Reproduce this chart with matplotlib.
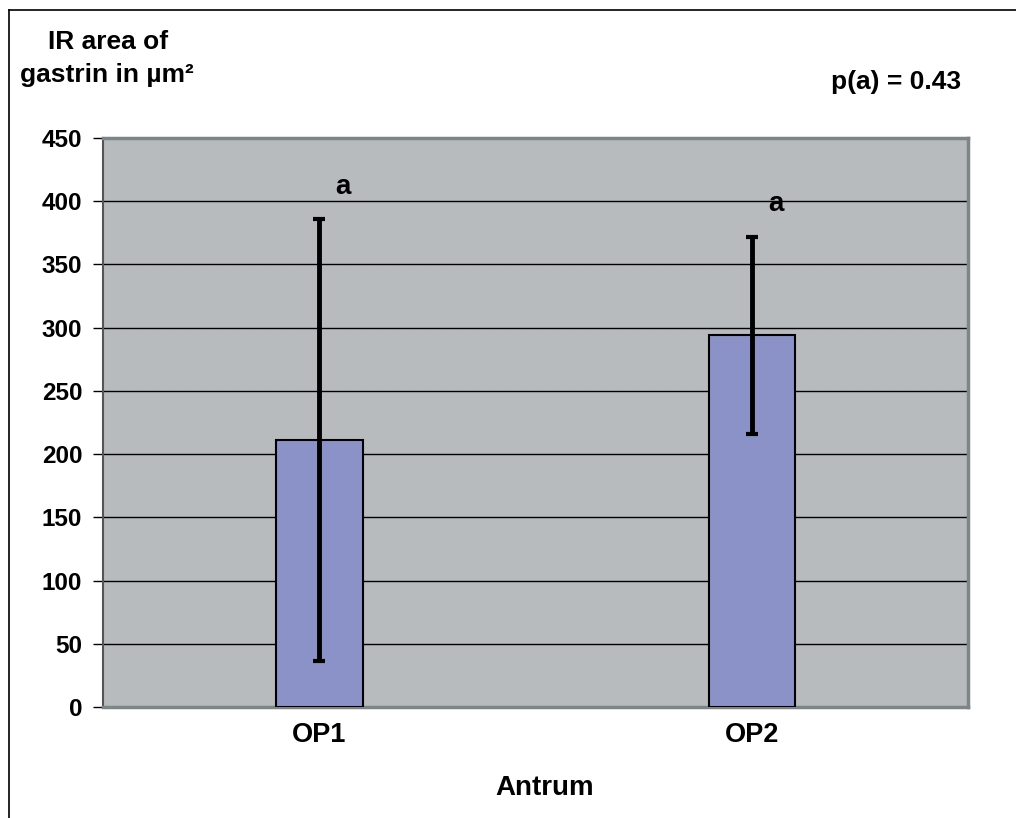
import matplotlib.pyplot as plt
from matplotlib.lines import Line2D

# --- DATA ---
groups = ["OP1", "OP2"]
means = [211, 294]
errors = [175, 78]
sig_letters = ["a", "a"]
letter_y = [411, 398]
y_ticks = [0, 50, 100, 150, 200, 250, 300, 350, 400, 450]

plt.rcParams["font.family"] = ["Liberation Sans", "DejaVu Sans"]
plt.rcParams["font.weight"] = "bold"

fig = plt.figure(figsize=(10.16, 8.18), dpi=100)
ax = fig.add_axes([0.1014, 0.1357, 0.8514, 0.6956])

ax.set_facecolor("#b8bbbd")
x = list(range(len(groups)))
ax.bar(x, means, width=0.2, color="#8a92c8", edgecolor="black", linewidth=1.5, zorder=3)
ax.errorbar(x, means, yerr=errors, fmt="none", ecolor="black", elinewidth=3.5,
            capsize=4.5, capthick=3, zorder=4)

for xi, lab, ly in zip(x, sig_letters, letter_y):
    ax.text(xi + 0.055, ly, lab, fontsize=20, fontweight="bold", ha="center", va="center")

ax.set_xlim(-0.5, 1.5)
ax.set_ylim(0, 450)
ax.set_yticks(y_ticks)
ax.set_yticklabels([str(t) for t in y_ticks], fontsize=17.5, fontweight="bold")
ax.yaxis.grid(True, color="black", linewidth=1.0, zorder=0)
ax.set_axisbelow(True)
ax.set_xticks(x)
ax.set_xticklabels(groups, fontsize=19.5, fontweight="bold")
ax.tick_params(axis="x", length=0, pad=11)
ax.tick_params(axis="y", length=7, width=1, pad=8, direction="out")

for s in ["top", "right", "bottom"]:
    ax.spines[s].set_color("#7d8686")
    ax.spines[s].set_linewidth(2.5)
ax.spines["left"].set_color("#555555")
ax.spines["left"].set_linewidth(1.5)

# axis title sits slightly right of centre in the original
fig.text(0.536, 0.037, "Antrum", fontsize=20, fontweight="bold", ha="center", va="center")

fig.text(0.106, 0.949, "IR area of", fontsize=19, fontweight="bold", ha="center", va="center")
fig.text(0.105, 0.908, "gastrin in \u00b5m\u00b2", fontsize=19, fontweight="bold", ha="center", va="center")
fig.text(0.882, 0.9, "p(a) = 0.43", fontsize=19, fontweight="bold", ha="center", va="center")

# outer frame (top and left edges)
fig.add_artist(Line2D([0.009, 0.009], [0.0, 0.988], color="black", linewidth=1.2))
fig.add_artist(Line2D([0.009, 1.0], [0.988, 0.988], color="black", linewidth=1.2))

fig.savefig("out.png", dpi=100)
